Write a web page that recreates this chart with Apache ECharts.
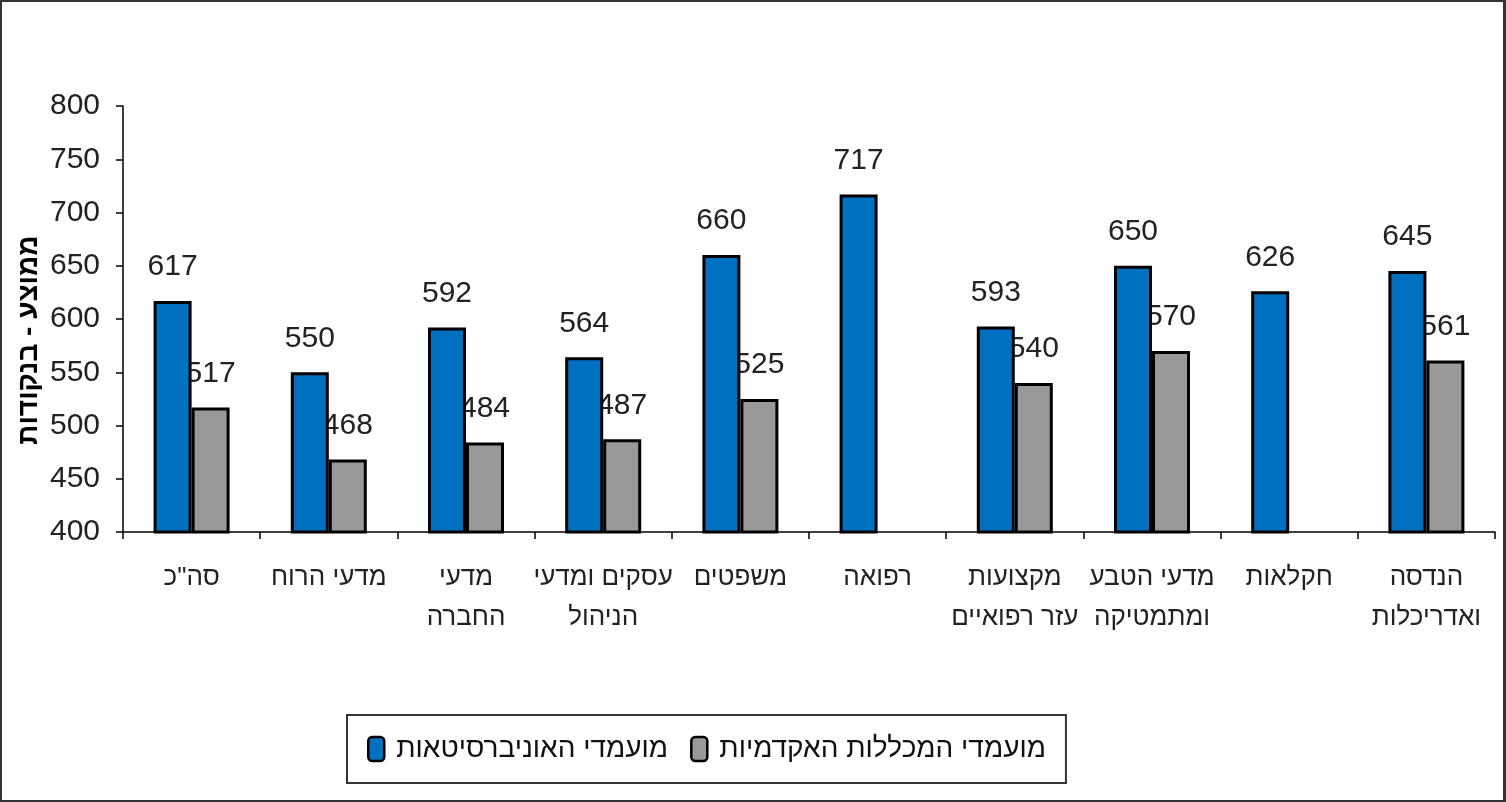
<!DOCTYPE html>
<html>
<head>
<meta charset="utf-8">
<script src="https://cdn.jsdelivr.net/npm/echarts@6/dist/echarts.min.js"></script>
<style>
    html, body { margin: 0; padding: 0; background: #fff; }
    #main { position: absolute; left: 0; top: 0; width: 1506px; height: 802px; }
    #frame {
        position: absolute; left: 0; top: 0; width: 1506px; height: 802px;
        box-sizing: border-box; border: 2px solid #333; border-right-width: 3px;
        pointer-events: none;
    }
</style>
</head>
<body>
<div id="main"></div>
<div id="frame"></div>
<script>
    // תחומי לימוד
    var categories = [
        'סה"כ', 'מדעי הרוח', 'מדעי\nהחברה', 'עסקים ומדעי\nהניהול', 'משפטים',
        'רפואה', 'מקצועות\nעזר רפואיים', 'מדעי הטבע\nומתמטיקה', 'חקלאות', 'הנדסה\nואדריכלות'
    ];
    var seriesNames = ['מועמדי האוניברסיטאות', 'מועמדי המכללות האקדמיות'];
    var universities = [617, 550, 592, 564, 660, 717, 593, 650, 626, 645];
    var colleges = [517, 468, 484, 487, 525, null, 540, 570, null, 561];
    var yTicks = { min: 400, max: 800, step: 50 };

    var numFont = "'Liberation Sans', Arial, sans-serif";
    var hebFont = "'Liberation Sans', 'DejaVu Sans', sans-serif";

    var chart = echarts.init(document.getElementById('main'));

    function barSeries(name, data, color, z) {
        return {
            name: name,
            type: 'bar',
            data: data,
            z: z,
            barWidth: 38,
            barGap: '0%',
            itemStyle: { color: color, borderColor: '#000', borderWidth: 3 },
            label: {
                show: true,
                position: 'top',
                distance: 19,
                color: '#222',
                fontSize: 30,
                fontFamily: numFont
            },
            emphasis: { disabled: true }
        };
    }

    chart.setOption({
        animation: false,
        backgroundColor: '#fff',
        grid: { left: 123, right: 11, top: 106, bottom: 270 },
        legend: {
            left: 347,
            top: 715,
            padding: [20, 20, 20, 20],
            itemWidth: 16,
            itemHeight: 24,
            itemGap: 22,
            icon: 'roundRect',
            borderColor: '#333',
            borderWidth: 2,
            itemStyle: { borderColor: '#000', borderWidth: 2.5 },
            textStyle: { fontSize: 28, fontFamily: hebFont, color: '#111', padding: [0, 0, 0, 7] },
            data: seriesNames
        },
        xAxis: {
            type: 'category',
            data: categories,
            axisLine: { lineStyle: { color: '#000', width: 1.5 } },
            axisTick: { show: true, length: 7, lineStyle: { color: '#000', width: 1.5 } },
            axisLabel: {
                interval: 0,
                margin: 26,
                fontSize: 26,
                lineHeight: 40,
                fontFamily: hebFont,
                color: '#222'
            }
        },
        yAxis: {
            type: 'value',
            min: yTicks.min,
            max: yTicks.max,
            interval: yTicks.step,
            name: 'ממוצע - בנקודות',
            nameLocation: 'middle',
            nameRotate: 90,
            nameGap: 80,
            nameMoveOverlap: false,
            nameTextStyle: {
                fontSize: 28,
                fontWeight: 'bold',
                fontFamily: hebFont,
                color: '#000',
                padding: [0, 42, 0, 0]
            },
            axisLine: { show: true, lineStyle: { color: '#000', width: 1.5 } },
            axisTick: { show: true, length: 7, lineStyle: { color: '#000', width: 1.5 } },
            splitLine: { show: false },
            axisLabel: { margin: 23, fontSize: 30, fontFamily: numFont, color: '#222' }
        },
        series: [
            barSeries(seriesNames[0], universities, '#0070c0', 3),
            barSeries(seriesNames[1], colleges, '#999999', 2)
        ]
    });
</script>
</body>
</html>
